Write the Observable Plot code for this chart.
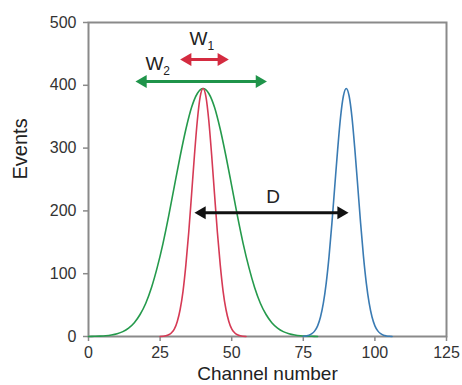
<!DOCTYPE html>
<html>
<head>
<meta charset="utf-8">
<script src="https://cdn.jsdelivr.net/npm/d3@7"></script>
<script src="https://cdn.jsdelivr.net/npm/@observablehq/plot@0.6"></script>
<style>
  html, body { margin: 0; padding: 0; background: #fff; }
</style>
</head>
<body>
<div id="chart"></div>
<script>
// Axis ticks
const channelTicks = [0, 25, 50, 75, 100, 125];
const eventTicks = [0, 100, 200, 300, 400, 500];

// Narrow peak (red), centred on channel 40
const redChannel = [25, 27, 28, 29, 30, 31, 32, 33, 34, 35, 36, 37, 38, 39, 40,
  41, 42, 43, 44, 45, 46, 47, 48, 49, 50, 51, 52, 53, 55];
const redEvents = [0, 1.1, 2.7, 6, 12, 24, 43, 72, 114, 166, 227, 289, 344, 382, 395,
  382, 344, 289, 227, 166, 114, 72, 43, 24, 12, 6, 2.7, 1.1, 0];

// Broad peak (green), centred on channel 40
const greenChannel = [0, 2, 4, 6, 8, 10, 12, 14, 16, 18, 20, 22, 24, 26, 28, 30, 32, 34, 36, 38, 40,
  42, 44, 46, 48, 50, 52, 54, 56, 58, 60, 62, 64, 66, 68, 70, 72, 74, 76, 78, 80];
const greenEvents = [0.1, 0.3, 0.6, 1.2, 2.4, 4.4, 7.8, 13.5, 22, 35, 53, 78, 110, 148, 192, 240, 287, 330, 365, 387, 395,
  387, 365, 330, 287, 240, 192, 148, 110, 78, 53, 35, 22, 13.5, 7.8, 4.4, 2.4, 1.2, 0.6, 0.3, 0.1];

// Second narrow peak (blue), centred on channel 90
const blueChannel = [75, 76, 77, 78, 79, 80, 81, 82, 83, 84, 85, 86, 87, 88, 89, 90,
  91, 92, 93, 94, 95, 96, 97, 98, 99, 100, 101, 102, 103, 104, 105, 106];
const blueEvents = [0.3, 0.9, 2, 4.4, 9, 17, 31, 53, 85, 128, 181, 240, 298, 349, 383, 395,
  383, 349, 298, 240, 181, 128, 85, 53, 31, 17, 9, 4.4, 2, 0.9, 0.3, 0.1];

// Width / distance arrows
const arrowName = ["W1", "W2", "D"];
const arrowFrom = [32, 16.4, 37];
const arrowTo = [49, 62.3, 90.8];
const arrowLevel = [441, 406, 197];

// Annotation labels
const labelText = ["W", "W", "D"];
const labelSub = ["1", "2", ""];
const labelChannel = [38.4, 23, 64.5];
const labelLevel = [474, 434, 223];

const colors = {red: "#d63a55", green: "#259a4c", blue: "#3a7bb3", W1: "#d42b40", W2: "#1f944a", D: "#111111"};

const toPoints = (xs, ys) => xs.map((x, i) => ({channel: x, events: ys[i]}));
const curves = [
  {key: "green", points: toPoints(greenChannel, greenEvents)},
  {key: "red", points: toPoints(redChannel, redEvents)},
  {key: "blue", points: toPoints(blueChannel, blueEvents)}
];
const arrows = arrowName.map((name, i) => ({name, x1: arrowFrom[i], x2: arrowTo[i], y: arrowLevel[i]}));
const labels = labelText.map((t, i) => ({t, sub: labelSub[i], x: labelChannel[i], y: labelLevel[i]}));

const axisGray = "#8a8a8a";
const head = 4.8;             // triangle radius
const tip = 2 * Math.sqrt(head * head * Math.PI / (3 * Math.sqrt(3)));

const chart = Plot.plot({
  width: 462,
  height: 385,
  marginLeft: 88,
  marginRight: 16,
  marginTop: 22,
  marginBottom: 49,
  x: {domain: [0, 125]},
  y: {domain: [0, 500]},
  style: {fontFamily: "'Liberation Sans', Arial, sans-serif", fontSize: "16px", color: "#333", background: "#fff"},
  marks: [
    Plot.axisX({ticks: channelTicks, tickSize: 5, tickPadding: 5, stroke: axisGray, strokeWidth: 1.5, label: null}),
    Plot.axisY({ticks: eventTicks, tickSize: 5, tickPadding: 7, stroke: axisGray, strokeWidth: 1.5, label: null}),
    Plot.frame({stroke: axisGray, strokeWidth: 2}),
    ...curves.map(c => Plot.line(c.points, {x: "channel", y: "events", stroke: colors[c.key], strokeWidth: 1.6, curve: "monotone-x"})),
    ...arrows.map(a => [
      Plot.ruleY([a], {y: "y", x1: "x1", x2: "x2", stroke: colors[a.name], strokeWidth: 3, insetLeft: 7, insetRight: 7}),
      Plot.dot([a], {x: "x1", y: "y", symbol: "triangle", r: head, rotate: -90, dx: tip, fill: colors[a.name], stroke: "none"}),
      Plot.dot([a], {x: "x2", y: "y", symbol: "triangle", r: head, rotate: 90, dx: -tip, fill: colors[a.name], stroke: "none"})
    ]),
    Plot.text(labels, {x: "x", y: "y", text: "t", fontSize: 19, fill: "#222"}),
    Plot.text(labels, {x: "x", y: "y", text: "sub", fontSize: 12, fill: "#222", textAnchor: "start", dx: 9, dy: 7}),
    Plot.text(["Channel number"], {frameAnchor: "bottom", dy: 43, fontSize: 19, fill: "#222"}),
    Plot.text(["Events"], {frameAnchor: "left", rotate: -90, dx: -68, fontSize: 20, fill: "#222"})
  ]
});

document.getElementById("chart").appendChild(chart);
</script>
</body>
</html>
